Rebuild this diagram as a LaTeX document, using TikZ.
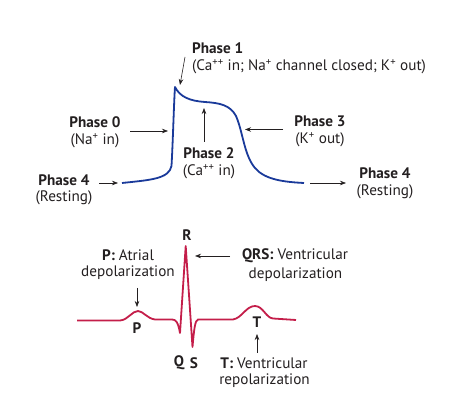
\documentclass[tikz,border=0pt]{standalone}
\usepackage{fontspec}
\setmainfont{PT Sans}
\usetikzlibrary{arrows.meta}
\definecolor{apblue}{HTML}{1A3A9A}
\definecolor{ecgred}{HTML}{C41E4A}
\definecolor{arrowgray}{HTML}{231F20}
\newcommand{\lblfont}{\fontsize{15.2}{18}\selectfont}
\begin{document}
\begin{tikzpicture}[x=1pt,y=-1pt,
  lbl/.style={inner sep=0pt,font=\lblfont,text=arrowgray},
  blbl/.style={lbl,font=\lblfont\bfseries},
  pointer/.style={draw=arrowgray,line width=0.6pt,-{Stealth[length=6pt,width=4.5pt]}},
  apcurve/.style={draw=apblue,line width=1.8pt,line join=round},
  ecgcurve/.style={draw=ecgred,line width=1.8pt,line join=round}]
\useasboundingbox (0,0) rectangle (474,419);
% action potential
\draw[apcurve] (122,183) .. controls (150,180) and (169,179) .. (171.5,166)
  .. controls (173,140) and (174,100) .. (175,87)
  .. controls (180,97) and (190,101) .. (205,102)
  .. controls (220,103) and (230,105) .. (236,116)
  .. controls (243,132) and (244,155) .. (255,168)
  .. controls (265,180) and (285,182) .. (304,183);
% labels top
\node[blbl,anchor=west] (p1) at (192,48) {Phase 1};
\node[lbl,anchor=west] (p1t) at (192,67) {(Ca\textsuperscript{++} in; Na\textsuperscript{+} channel closed; K\textsuperscript{+} out)};
\node[blbl] (p0) at (95,122) {Phase 0};
\node[lbl] (p0t) at (95,141) {(Na\textsuperscript{+} in)};
\node[blbl] (p2) at (209,153) {Phase 2};
\node[lbl] (p2t) at (209,172) {(Ca\textsuperscript{++} in)};
\node[blbl] (p3) at (320,121) {Phase 3};
\node[lbl] (p3t) at (320,140) {(K\textsuperscript{+} out)};
\node[blbl] (p4l) at (64,180) {Phase 4};
\node[lbl] (p4lt) at (64,198) {(Resting)};
\node[blbl] (p4r) at (385,173) {Phase 4};
\node[lbl] (p4rt) at (385,192) {(Resting)};
% arrows top
\coordinate (a1s) at (185,57); \coordinate (a1e) at (180,85);
\coordinate (a0s) at (130,131); \coordinate (a0e) at (168,131);
\coordinate (a2s) at (204,142); \coordinate (a2e) at (204,108);
\coordinate (a3s) at (283,129.5); \coordinate (a3e) at (245,129.5);
\coordinate (a4ls) at (99,183); \coordinate (a4le) at (118,183);
\coordinate (a4rs) at (310,183); \coordinate (a4re) at (346,183);
\draw[pointer] (a1s) -- (a1e);
\draw[pointer] (a0s) -- (a0e);
\draw[pointer] (a2s) -- (a2e);
\draw[pointer] (a3s) -- (a3e);
\draw[pointer] (a4ls) -- (a4le);
\draw[pointer] (a4rs) -- (a4re);
% ECG
\draw[ecgcurve] (77,320.5) -- (120,320.5)
  .. controls (128,320) and (132,311) .. (138,311)
  .. controls (143,311) and (147,318.5) .. (155,319.5) -- (172,319.5)
  .. controls (176,319.5) and (178,322) .. (180,333)
  -- (185.7,246) -- (192.5,347)
  .. controls (194,330) and (195,320) .. (198,319.5) -- (233,319.5)
  .. controls (242,318) and (246,306) .. (255,306)
  .. controls (263,306) and (266,318) .. (273,318.5) -- (296,320);
\node[blbl] (R) at (187,235) {R};
\node[blbl] (P) at (137,328) {P};
\node[blbl] (T) at (257,322) {T};
\node[blbl] (Q) at (179,363) {Q};
\node[blbl] (S) at (194,363) {S};
\node[lbl] (pa) at (128,255) {\textbf{P:} Atrial};
\node[lbl] (pd) at (128,273) {depolarization};
\node[lbl] (qa) at (295,256) {\textbf{QRS:} Ventricular};
\node[lbl] (qd) at (295.5,275) {depolarization};
\node[lbl] (ta) at (264,363) {\textbf{T:} Ventricular};
\node[lbl] (tr) at (264.5,381) {repolarization};
\coordinate (bps) at (137,288); \coordinate (bpe) at (137,307);
\coordinate (bqs) at (230,256); \coordinate (bqe) at (195,256);
\coordinate (bts) at (257,353); \coordinate (bte) at (257,334);
\draw[pointer] (bps) -- (bpe);
\draw[pointer] (bqs) -- (bqe);
\draw[pointer] (bts) -- (bte);
\end{tikzpicture}
\end{document}
